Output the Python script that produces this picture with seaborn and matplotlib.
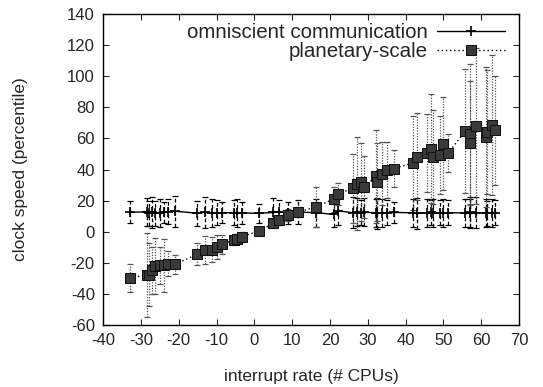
import numpy as np
import pandas as pd
import matplotlib
matplotlib.use("Agg")
import matplotlib.pyplot as plt
import seaborn as sns

# x positions shared by both series
cpus = [-33, -28.4, -27.8, -27.1, -26.2, -25, -24, -22.9, -21.1,
        -15.1, -13, -11.3, -9.9, -8.5, -5.5, -4.6, -3.3, 1.1,
        5, 6.4, 9, 11.6, 16.3, 21, 22.2, 26, 27.1, 28.2, 29,
        32.2, 32.5, 33.7, 35, 36.8, 42, 43.1, 45.6, 46.6, 47.2,
        49.1, 50, 51.3, 55.7, 56.9, 57, 58.6, 61.3, 61.5, 62.8, 63.7]

planetary = [-29.5, -28, -27.5, -24.8, -22.2, -21.5, -21.5, -20.5, -21,
             -14.5, -11.5, -11.5, -9.8, -8, -5.5, -4.4, -3.3, 0.5,
             5.3, 7.4, 10.6, 12.7, 16, 21, 24.5, 27.8, 31, 32, 28.8,
             35.7, 32, 37.4, 39.5, 40.6, 44.2, 48.1, 50.7, 53.5, 48.1,
             49.2, 56.7, 50.7, 64.6, 62.7, 57.1, 67.8, 61, 64.2, 68.5, 65.3]
planetary_err = [9, 27, 20, 15, 18, 12, 17, 8, 6,
                 7, 9, 8, 8, 6, 3, 3, 3, 2,
                 3, 3, 4, 3, 13, 8, 7, 22, 30, 25, 20,
                 30, 25, 20, 18, 12, 30, 28, 25, 35, 30,
                 25, 30, 12, 40, 45, 40, 50, 45, 40, 45, 35]

omniscient = [12.5, 12.8, 12, 12.6, 11.8, 12.2, 12.4, 12.9, 13.2,
              11.9, 12.6, 11.8, 12.1, 12.3, 12.2, 11.9, 12.1, 11.8,
              12.4, 12.6, 12.1, 12.7, 12.2, 11.2, 13.4, 12.2, 12.4, 12.1, 12.5,
              12.2, 11.9, 12.3, 12.1, 12.4, 12.2, 11.8, 12.3, 12.4, 12.1,
              12.3, 12.0, 12.2, 12.1, 12.4, 12.0, 12.3, 12.2, 11.9, 12.3, 12.1]
omniscient_err = [7, 9, 8, 10, 8, 9, 7, 8, 10,
                  8, 10, 9, 8, 7, 8, 9, 7, 6,
                  9, 8, 7, 8, 9, 8, 9, 10, 9, 8, 9,
                  9, 10, 9, 8, 7, 9, 10, 9, 8, 9,
                  8, 9, 8, 9, 10, 9, 10, 9, 8, 9, 8]

df = pd.DataFrame({"cpus": cpus, "planetary": planetary, "omniscient": omniscient})

sns.set_style("ticks")
plt.rcParams["font.family"] = ["Liberation Sans", "DejaVu Sans"]
plt.rcParams["axes.unicode_minus"] = False

fig = plt.figure(figsize=(5.43, 3.87), dpi=100)
ax = fig.add_axes([0.19, 0.16, 0.766, 0.804])

# error bars
ob = ax.errorbar(cpus, omniscient, yerr=omniscient_err, fmt="none", ecolor="black",
                 elinewidth=0.9, capsize=2, capthick=0.9)
ob[2][0].set_linestyle((0, (3, 2)))
eb = ax.errorbar(cpus, planetary, yerr=planetary_err, fmt="none", ecolor="#555555",
                 elinewidth=0.9, capsize=2, capthick=0.9)
eb[2][0].set_linestyle((0, (1, 1.2)))

sns.lineplot(data=df, x="cpus", y="omniscient", ax=ax, color="black", lw=1.0,
             marker="+", markersize=7, markeredgewidth=1.2, markeredgecolor="black",
             label="omniscient communication")
sns.lineplot(data=df, x="cpus", y="planetary", ax=ax, color="black", lw=1.0,
             linestyle=(0, (1, 2)), marker="s", markersize=7,
             markerfacecolor="#3a3a3a", markeredgecolor="#111111",
             label="planetary-scale")

ax.set_xlim(-40, 70)
ax.set_ylim(-60, 140)
ax.set_xticks(range(-40, 71, 10))
ax.set_yticks(range(-60, 141, 20))
ax.tick_params(direction="in", top=True, right=True, length=4, labelsize=12, pad=6)
for s in ax.spines.values():
    s.set_linewidth(1.0)
    s.set_color("black")
ax.set_xlabel("interrupt rate (# CPUs)", fontsize=12.5, labelpad=15)
ax.set_ylabel("clock speed (percentile)", fontsize=12.5, labelpad=28)

ax.legend(loc="upper right", bbox_to_anchor=(0.966, 0.97), frameon=False,
          markerfirst=False, fontsize=14.8, handlelength=3.3, borderaxespad=0,
          borderpad=0, labelspacing=0.0, handletextpad=0.45)

fig.savefig("out.png", dpi=100)
